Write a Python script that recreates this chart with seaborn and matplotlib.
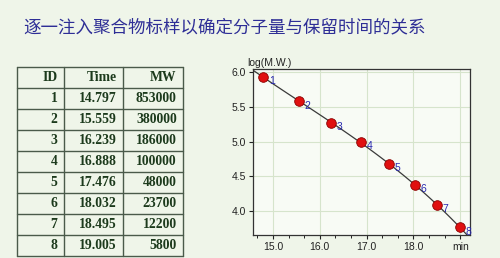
import matplotlib
matplotlib.use("Agg")
import matplotlib.pyplot as plt
import seaborn as sns
import numpy as np
import pandas as pd

# ---- data ----
ids = [1, 2, 3, 4, 5, 6, 7, 8]
times = [14.797, 15.559, 16.239, 16.888, 17.476, 18.032, 18.495, 19.005]
mws = [853000, 380000, 186000, 100000, 48000, 23700, 12200, 5800]
time_labels = ["14.797", "15.559", "16.239", "16.888", "17.476", "18.032", "18.495", "19.005"]
headers = ["ID", "Time", "MW"]
xtick_vals = [15, 16, 17, 18, 19]
xtick_labels = ["15.0", "16.0", "17.0", "18.0", "min"]
ytick_vals = [4.0, 4.5, 5.0, 5.5, 6.0]
title = "逐一注入聚合物标样以确定分子量与保留时间的关系"

df = pd.DataFrame({"id": ids, "time": times, "mw": mws})
df["logmw"] = np.log10(df["mw"])

sns.set_theme(style="white")
plt.rcParams['font.family'] = ['Liberation Sans', 'DejaVu Sans']

BG = "#eff5e9"
W, H = 500, 258
fig = plt.figure(figsize=(5, 2.58), dpi=100, facecolor=BG)

def fx(px):
    return px / W

def fy(py):
    return 1 - py / H

# ---- title ----
fig.text(fx(23), fy(27), title, fontsize=12.6, color="#2e2e96",
         family=["Noto Sans CJK SC", "DejaVu Sans"], va="center", ha="left",
         fontweight="medium")

# ---- table ----
tl, tr, tt, tb = 16.7, 182.7, 67.3, 255.7
tax = fig.add_axes([fx(tl), fy(tb), fx(tr - tl), (tb - tt) / H])
tax.set_xlim(0, tr - tl)
tax.set_ylim(9, 0)
tax.axis("off")
col_edges = [0, 47.6, 106, 166]
line_col = "#4a5a4a"
for r in range(10):
    tax.plot([0, 166], [r, r], color=line_col, lw=1.0, clip_on=False)
for c in col_edges:
    tax.plot([c, c], [0, 9], color=line_col, lw=1.0, clip_on=False)
txt_col = "#1c3a1c"
tfont = dict(family="Liberation Serif", fontweight="bold", fontsize=9.8,
             color=txt_col, ha="right", va="center")
pads = [7, 6, 6]
for j, h in enumerate(headers):
    tax.text(col_edges[j + 1] - pads[j], 0.5, h, **tfont)
for i in range(len(ids)):
    row = [str(ids[i]), time_labels[i], str(mws[i])]
    for j, v in enumerate(row):
        tax.text(col_edges[j + 1] - pads[j], i + 1.5, v, **tfont)

# ---- chart ----
al, ar, at, ab = 253.3, 470, 69, 235
ax = fig.add_axes([fx(al), fy(ab), fx(ar - al), (ab - at) / H])
ax.set_facecolor("#f8fbf5")
ax.set_xlim(14.58, 19.21)
ax.set_ylim(3.654, 6.048)
sns.regplot(data=df, x="time", y="logmw", order=3, ci=None, scatter=False,
            truncate=False, ax=ax, line_kws=dict(color="#3a3a3a", lw=0.9))
sns.scatterplot(data=df, x="time", y="logmw", ax=ax, s=48, color="#e01010",
                edgecolor="#8a0000", linewidth=0.6, zorder=5)
for t, l, i in zip(df["time"], df["logmw"], df["id"]):
    ax.annotate(str(i), (t, l), xytext=(4, -3), textcoords="offset points",
                fontsize=7.5, color="#2a2ab0", va="center", ha="left", zorder=6)
ax.set_xlim(14.58, 19.21)
ax.set_ylim(3.654, 6.048)
ax.set_xticks(xtick_vals)
ax.set_xticklabels(xtick_labels)
ax.set_xticks(np.arange(14.667, 19.2, 1 / 3), minor=True)
ax.set_yticks(ytick_vals)
ax.set_yticklabels([f"{v:.1f}" for v in ytick_vals])
ax.grid(True, which="major", color="#d6e4cc", lw=0.8)
ax.tick_params(axis="both", which="major", labelsize=7.5, length=3, width=0.8,
               colors="#222222", pad=2, direction="out", bottom=True, left=True)
ax.tick_params(axis="x", which="minor", length=2, width=0.7, bottom=True,
               colors="#222222")
ax.set_xlabel("")
ax.set_ylabel("")
for s in ax.spines.values():
    s.set_color("#333333")
    s.set_linewidth(0.9)
ax.text(-0.03, 1.005, "log(M.W.)", transform=ax.transAxes, fontsize=7.5,
        color="#222222", ha="left", va="bottom")

fig.savefig("out.png", dpi=100, facecolor=BG)
